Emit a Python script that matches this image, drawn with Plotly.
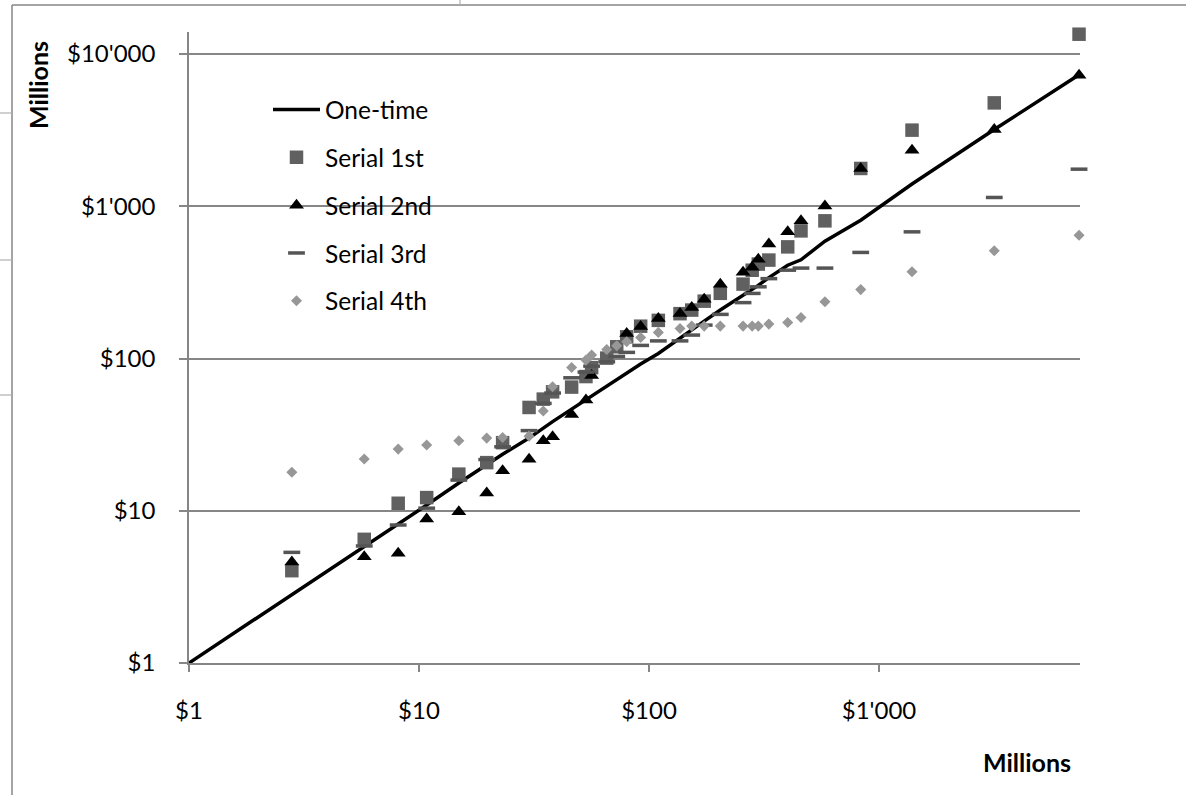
import plotly.graph_objects as go

# ---- data (millions of dollars) ----
issue_size = [2.80, 5.78, 8.12, 10.8, 14.9, 19.7, 23.1, 30.1, 34.7, 38.1, 46.1,
              53.2, 56.3, 65.5, 72.4, 80.0, 92.0, 109.8, 136.4, 153.4, 173.8,
              204.2, 256.4, 281, 298.7, 332, 401, 458, 582, 833, 1392, 3171, 7410]

one_time_x = [1] + issue_size
one_time_y = [1, 2.8, 5.8, 8.1, 10.9, 15.2, 20.0, 23.5, 30.0, 35.0, 38.5, 46.5,
              53.5, 57, 66, 73, 80, 92, 108, 137, 155, 176, 208, 258, 284, 302,
              340, 410, 445, 590, 810, 1400, 3190, 7300]

serial_1st = [4.04, 6.49, 11.2, 12.2, 17.4, 20.7, 28.0, 47.7, 54.1, 60.4, 64.9,
              76.1, 87.1, 100.6, 119.4, 138.8, 163, 178, 197, 208, 238, 268, 308,
              380, 417, 443, 541, 689, 802, 1771, 3161, 4775, 13490]

serial_2nd = [4.60, 4.99, 5.25, 8.82, 9.85, 13.1, 18.3, 21.8, 28.8, 30.6, 42.8,
              53.3, 77.2, None, None, 145.8, 162.5, 183.4, 197.7, 216.5, 244.7,
              307, 368, 398, 448, 564, 679, 804, 1002, 1771, 2336, 3194, 7260]

serial_3rd = [5.33, 5.87, 8.06, 10.4, 15.9, 21.7, 26.3, 33.6, 50.7, 59.3, 74.7,
              81.4, 89.1, 95.1, 103.2, 109.7, 121.9, 130.5, 130.5, 142.5, 165.7,
              194.9, 232.8, 267.6, 295.7, 334.6, 380.3, 392.4, 392.4, 497.4, 679,
              1142, 1752]

serial_4th = [17.9, 21.9, 25.4, 27.0, 28.8, 30.0, 30.3, 30.9, 45.2, 65.2, 87.3,
              97.6, 105.3, 114.7, 121.2, 128.8, 137.5, 148.4, 157.6, 163.2, 163.2,
              163.2, 163.2, 163.2, 163.2, 168.2, 172.6, 186.1, 235.7, 283.4, 370.9,
              509.6, 645.7]

x_tick_vals = [1, 10, 100, 1000]
x_tick_text = ["$1", "$10", "$100", "$1'000"]
y_tick_vals = [1, 10, 100, 1000, 10000]
y_tick_text = ["$1", "$10", "$100", "$1'000", "$10'000"]

# ---- figure geometry ----
W, H = 1186, 795
L, R, T, B = 189, 106, 32, 132
PW, PH = W - L - R, H - T - B
GREY = "#868686"
FONT = "Lato"


def px_x(px):
    return (px - L) / PW


def px_y(py):
    return (H - B - py) / PH


fig = go.Figure()

fig.add_trace(go.Scatter(
    x=one_time_x, y=one_time_y, mode="lines", name="One-time",
    line=dict(color="black", width=3.5), legendgroup="a"))

fig.add_trace(go.Scatter(
    x=issue_size, y=serial_1st, mode="markers", name="Serial 1st",
    marker=dict(symbol="square", size=13.5, color="#606060"), legendgroup="b",
    cliponaxis=False))

fig.add_trace(go.Scatter(
    x=issue_size, y=serial_2nd, mode="markers", name="Serial 2nd",
    marker=dict(symbol="triangle-up", size=13, color="black"), legendgroup="c",
    cliponaxis=False))

fig.add_trace(go.Scatter(
    x=issue_size, y=serial_3rd, mode="markers", name="Serial 3rd",
    marker=dict(symbol="line-ew", size=12, color="#555555",
                line=dict(color="#555555", width=3.5)), legendgroup="d",
    cliponaxis=False))

fig.add_trace(go.Scatter(
    x=issue_size, y=serial_4th, mode="markers", name="Serial 4th",
    marker=dict(symbol="diamond", size=8.5, color="#979797"), legendgroup="e",
    cliponaxis=False))

fig.update_layout(
    width=W, height=H,
    margin=dict(l=L, r=R, t=T, b=B),
    paper_bgcolor="white", plot_bgcolor="white",
    font=dict(family=FONT, size=24, color="black"),
    showlegend=True,
    legend=dict(x=px_x(268), y=px_y(87), xanchor="left", yanchor="top",
                bgcolor="rgba(0,0,0,0)", tracegroupgap=13,
                font=dict(family=FONT, size=24.5, color="black"),
                itemwidth=47),
    xaxis=dict(type="log", range=[0, 3.874], tickvals=x_tick_vals,
               ticktext=x_tick_text, ticks="outside", ticklen=7,
               tickcolor=GREY, tickwidth=1.5, showline=True, linecolor=GREY,
               linewidth=1.5, showgrid=False, zeroline=False,
               ticklabelstandoff=18),
    yaxis=dict(type="log", range=[0, 4.1445], tickvals=y_tick_vals,
               ticktext=y_tick_text, ticks="outside", ticklen=8,
               tickcolor=GREY, tickwidth=1.5, showline=True, linecolor=GREY,
               linewidth=1.5, showgrid=True, gridcolor=GREY, gridwidth=1.5,
               zeroline=False, ticklabelstandoff=19),
)

# axis titles
fig.add_annotation(text="<b>Millions</b>", xref="paper", yref="paper",
                   x=px_x(38), y=px_y(85), xanchor="center", yanchor="middle",
                   textangle=-90, showarrow=False,
                   font=dict(family=FONT, size=25, color="black"))
fig.add_annotation(text="<b>Millions</b>", xref="paper", yref="paper",
                   x=px_x(1027), y=px_y(762), xanchor="center",
                   yanchor="middle", showarrow=False,
                   font=dict(family=FONT, size=25, color="black"))

# chart frame and surrounding cell borders
frame = dict(color=GREY, width=1.5)
fig.add_shape(type="line", xref="paper", yref="paper",
              x0=px_x(12), x1=px_x(W), y0=px_y(5), y1=px_y(5), line=frame)
fig.add_shape(type="line", xref="paper", yref="paper",
              x0=px_x(12), x1=px_x(12), y0=px_y(5), y1=px_y(H), line=frame)
for cy in (113, 260, 395):
    fig.add_shape(type="line", xref="paper", yref="paper",
                  x0=px_x(0), x1=px_x(12), y0=px_y(cy), y1=px_y(cy),
                  line=dict(color="#b0b0b0", width=1.2))
fig.add_shape(type="line", xref="paper", yref="paper",
              x0=px_x(460), x1=px_x(460), y0=px_y(0), y1=px_y(5),
              line=dict(color="#b0b0b0", width=1.2))

fig.write_html("out.html")
